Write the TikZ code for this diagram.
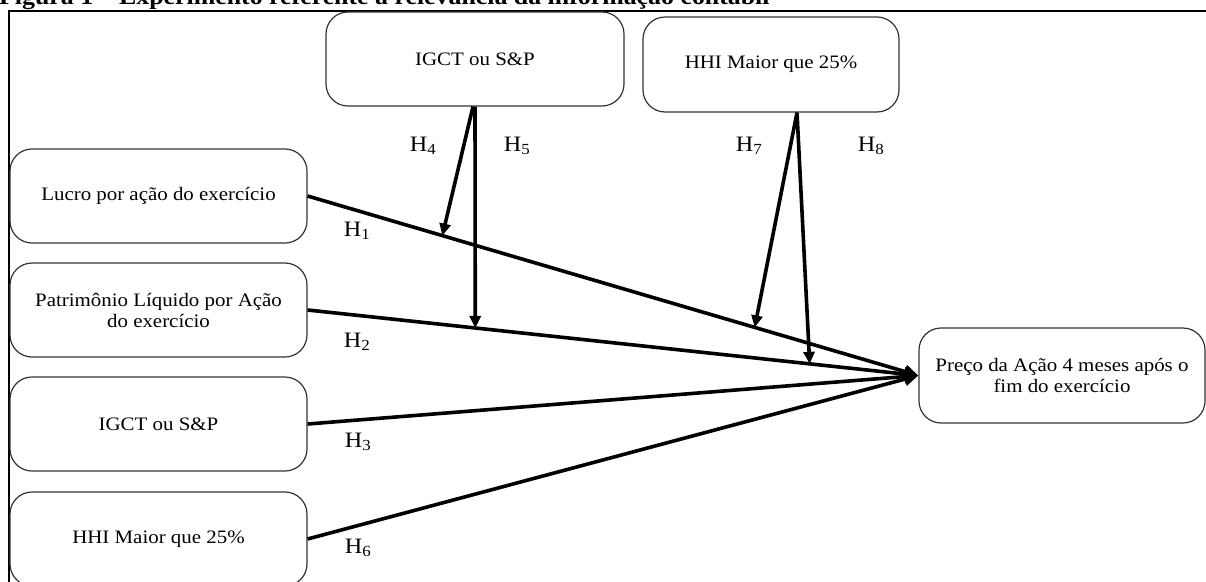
\documentclass[tikz,border=0pt]{standalone}
\usepackage{fontspec}
\setmainfont{Liberation Serif}[FakeStretch=1.1]
\usetikzlibrary{arrows.meta,calc}
\begin{document}
\begin{tikzpicture}[x=1pt,y=-1pt,
  box/.style={draw=black!80, line width=1.2pt, rounded corners=22pt, align=center,
              font=\fontsize{19}{21}\selectfont, inner sep=0pt},
  link/.style={line width=3.6pt, -{Triangle[length=14pt,width=13pt]}},
  modarrow/.style={line width=3.6pt, -{Triangle[length=12pt,width=11pt]}},
  hyp/.style={font=\fontsize{22}{24}\selectfont, inner sep=0pt},
  frame/.style={line width=2.4pt}]
\useasboundingbox (0,0) rectangle (1206,581);
\clip (0,0) rectangle (1206,581);

% title (cut by the top edge)
\node[anchor=base west, inner sep=0pt, font=\bfseries\fontsize{23.5}{25}\selectfont] (title) at (-1,4)
  {Figura 1 -- Experimento referente à relevância da informação contábil};

% frame
\coordinate (fbl) at (9,600);
\coordinate (ftl) at (9,11);
\coordinate (ftr) at (1220,11);
\draw[frame] (fbl) -- (ftl) -- (ftr);

% boxes
\node[box, minimum width=298pt, minimum height=94pt] (top1) at (475,59) {IGCT ou S\&P};
\node[box, minimum width=256pt, minimum height=95pt] (top2) at (771,64.5) {HHI Maior que 25\%};
\node[box, minimum width=297pt, minimum height=94pt] (l1) at (158.5,196) {Lucro por ação do exercício};
\node[box, minimum width=297pt, minimum height=94pt] (l2) at (158.5,310) {Patrimônio Líquido por Ação\\do exercício};
\node[box, minimum width=297pt, minimum height=94pt] (l3) at (158.5,424) {IGCT ou S\&P};
\node[box, minimum width=297pt, minimum height=94pt] (l4) at (158.5,539) {HHI Maior que 25\%};
\node[box, minimum width=286pt, minimum height=95pt] (r) at (1062,375.5) {Preço da Ação 4 meses após o\\fim do exercício};

% main paths
\draw[link] (l1.east) -- (r.west);
\draw[link] (l2.east) -- (r.west);
\draw[link] (l3.east) -- (r.west);
\draw[link] (l4.east) -- (r.west);

% moderator target points on the main paths
\coordinate (m4) at ($(l1.east)!0.2206!(r.west)$);
\coordinate (m5) at ($(l2.east)!0.2745!(r.west)$);
\coordinate (m7) at ($(l1.east)!0.732!(r.west)$);
\coordinate (m8) at ($(l2.east)!0.822!(r.west)$);
\coordinate (s2) at ([xshift=26pt]top2.south);

\draw[modarrow] ([xshift=-2pt]top1.south) -- (m4);
\draw[modarrow] (top1.south) -- (m5);
\draw[modarrow] (s2) -- (m7);
\draw[modarrow] (s2) -- (m8);

% hypothesis labels
\node[hyp] (h1) at (357,231) {H\textsubscript{1}};
\node[hyp] (h2) at (357,342) {H\textsubscript{2}};
\node[hyp] (h3) at (358,442) {H\textsubscript{3}};
\node[hyp] (h6) at (358,548) {H\textsubscript{6}};
\node[hyp] (h4) at (423,146) {H\textsubscript{4}};
\node[hyp] (h5) at (517,146) {H\textsubscript{5}};
\node[hyp] (h7) at (749,146) {H\textsubscript{7}};
\node[hyp] (h8) at (871,146) {H\textsubscript{8}};
\end{tikzpicture}
\end{document}
